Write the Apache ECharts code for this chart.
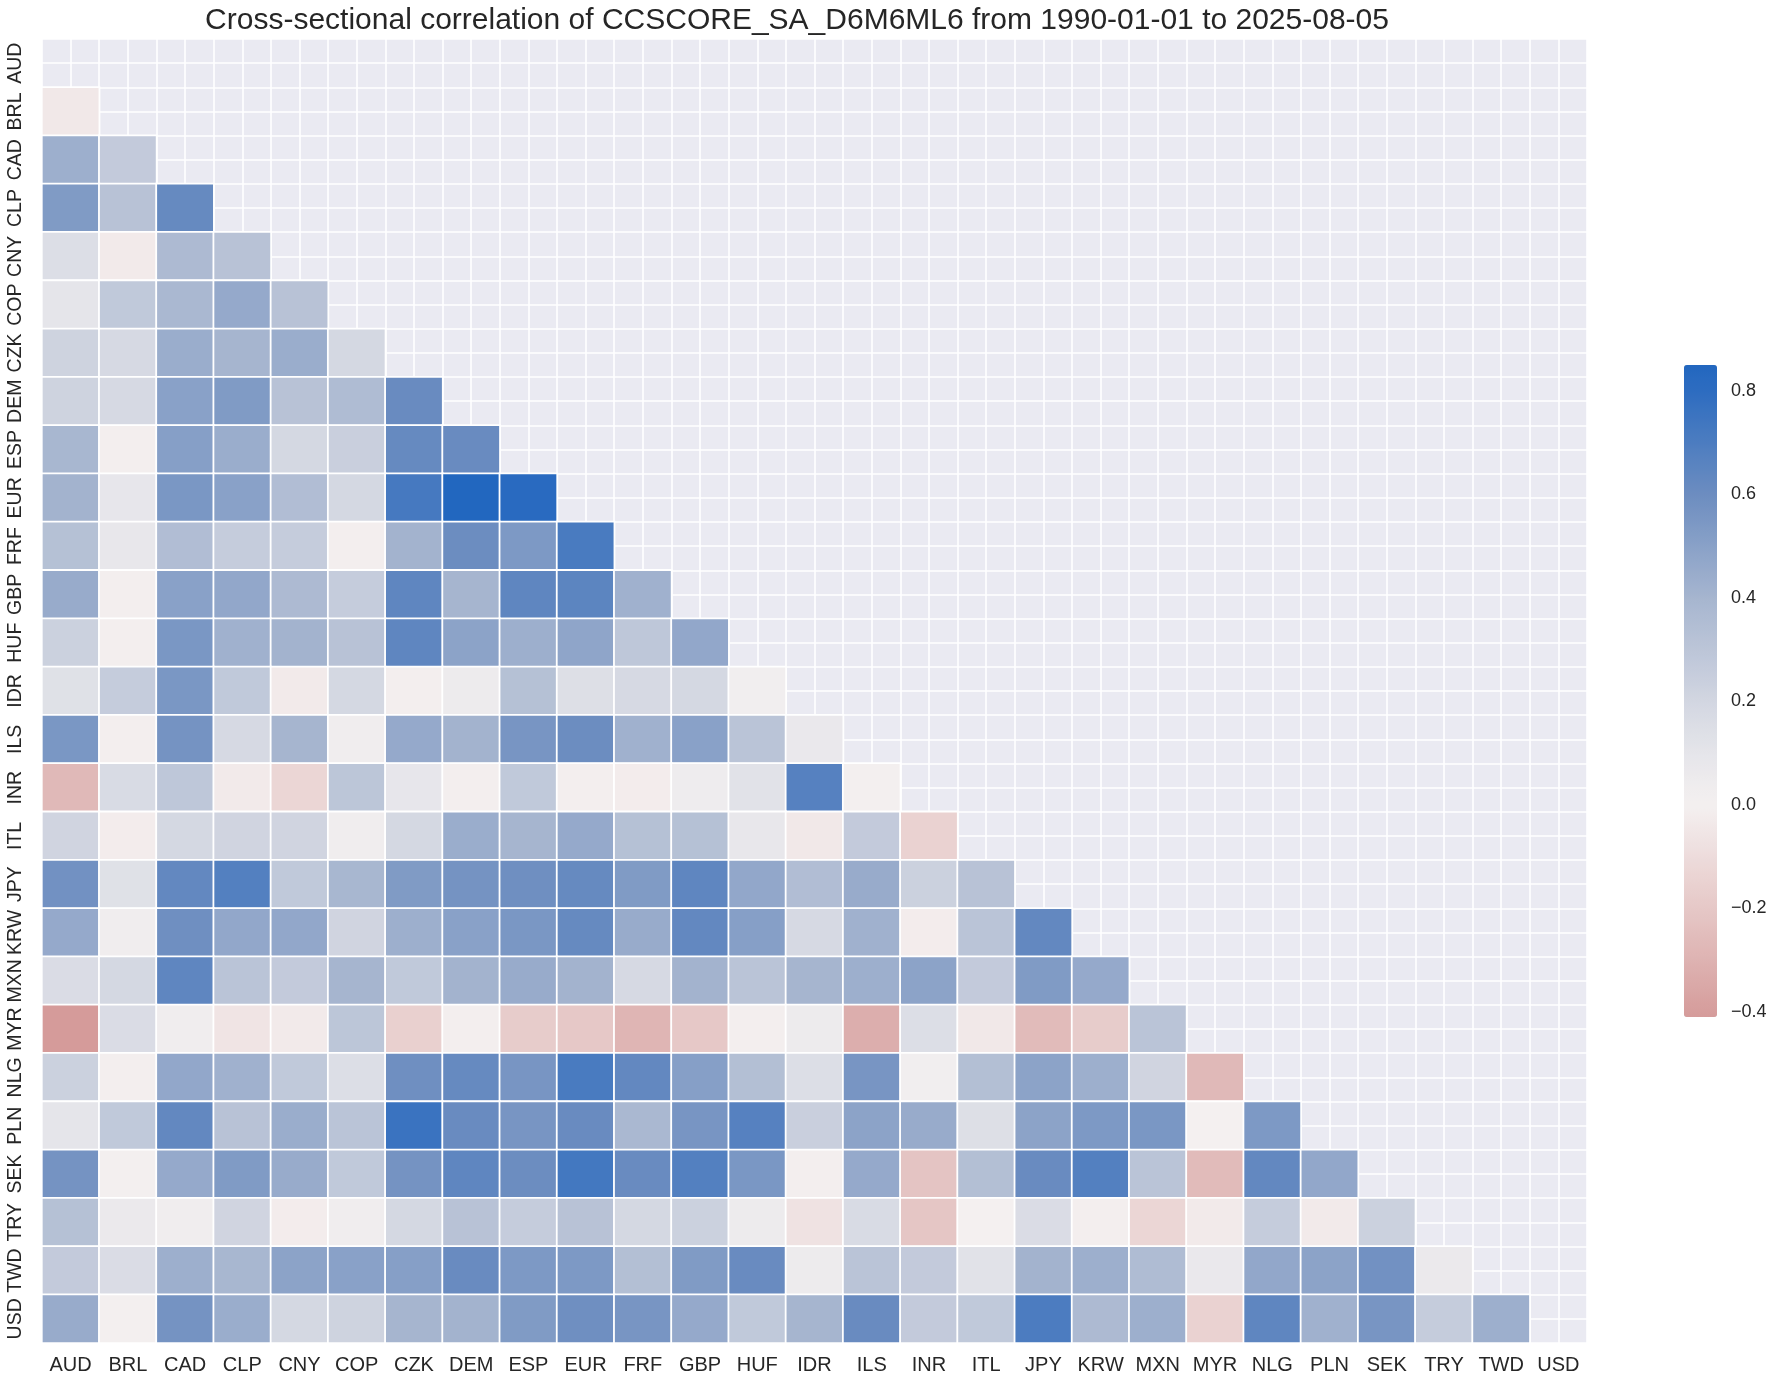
<!DOCTYPE html>
<html>
<head>
<meta charset="utf-8">
<script src="https://cdn.jsdelivr.net/npm/echarts@6/dist/echarts.min.js"></script>
<style>
html,body{margin:0;padding:0;background:#ffffff;}
#chart{width:1772px;height:1384px;}
</style>
</head>
<body>
<div id="chart"></div>
<script>
// ---------------- DATA ----------------
const titleText = 'Cross-sectional correlation of CCSCORE_SA_D6M6ML6 from 1990-01-01 to 2025-08-05';
const currencies = ['AUD','BRL','CAD','CLP','CNY','COP','CZK','DEM','ESP','EUR','FRF','GBP','HUF','IDR','ILS','INR','ITL','JPY','KRW','MXN','MYR','NLG','PLN','SEK','TRY','TWD','USD'];
const colorbarTicks = [-0.4, -0.2, 0.0, 0.2, 0.4, 0.6, 0.8];
const valueMin = -0.41;
const valueMax = 0.85;

// lower-triangle rows: values against AUD, BRL, ... (columns before the row currency)
const rowBRL = [-0.04];
const rowCAD = [0.43, 0.27];
const rowCLP = [0.53, 0.32, 0.62];
const rowCNY = [0.15, -0.03, 0.37, 0.32];
const rowCOP = [0.10, 0.28, 0.38, 0.46, 0.32];
const rowCZK = [0.22, 0.18, 0.44, 0.40, 0.44, 0.19];
const rowDEM = [0.22, 0.18, 0.50, 0.53, 0.32, 0.36, 0.61];
const rowESP = [0.39, -0.01, 0.51, 0.44, 0.19, 0.24, 0.62, 0.61];
const rowEUR = [0.41, 0.09, 0.55, 0.50, 0.35, 0.19, 0.72, 0.85, 0.82];
const rowFRF = [0.33, 0.08, 0.35, 0.26, 0.26, -0.01, 0.41, 0.60, 0.54, 0.71];
const rowGBP = [0.45, -0.01, 0.50, 0.47, 0.37, 0.26, 0.64, 0.40, 0.64, 0.65, 0.42];
const rowHUF = [0.23, -0.01, 0.55, 0.42, 0.41, 0.32, 0.64, 0.49, 0.43, 0.48, 0.29, 0.47];
const rowIDR = [0.13, 0.26, 0.55, 0.28, -0.03, 0.19, -0.01, 0.05, 0.33, 0.14, 0.18, 0.19, 0.02];
const rowILS = [0.55, -0.01, 0.57, 0.18, 0.40, 0.03, 0.46, 0.41, 0.56, 0.60, 0.42, 0.50, 0.31, 0.07];
const rowINR = [-0.27, 0.17, 0.29, -0.03, -0.13, 0.30, 0.09, -0.01, 0.28, -0.01, -0.02, 0.04, 0.12, 0.67, 0.01];
const rowITL = [0.21, -0.02, 0.19, 0.21, 0.21, 0.03, 0.19, 0.44, 0.40, 0.46, 0.33, 0.33, 0.08, -0.04, 0.27, -0.15];
const rowJPY = [0.58, 0.13, 0.63, 0.68, 0.28, 0.39, 0.53, 0.57, 0.59, 0.62, 0.53, 0.64, 0.47, 0.35, 0.45, 0.23, 0.32];
const rowKRW = [0.46, 0.03, 0.59, 0.47, 0.47, 0.21, 0.43, 0.50, 0.55, 0.62, 0.45, 0.63, 0.51, 0.18, 0.42, -0.02, 0.31, 0.63];
const rowMXN = [0.16, 0.19, 0.64, 0.31, 0.27, 0.40, 0.28, 0.41, 0.45, 0.41, 0.18, 0.41, 0.31, 0.40, 0.43, 0.49, 0.27, 0.53, 0.46];
const rowMYR = [-0.41, 0.16, 0.03, -0.06, -0.03, 0.30, -0.16, -0.01, -0.18, -0.20, -0.29, -0.20, -0.01, 0.05, -0.32, 0.15, -0.04, -0.26, -0.18, 0.31];
const rowNLG = [0.23, -0.01, 0.47, 0.42, 0.28, 0.15, 0.59, 0.62, 0.56, 0.71, 0.63, 0.51, 0.34, 0.15, 0.56, 0.02, 0.34, 0.49, 0.43, 0.21, -0.27];
const rowPLN = [0.10, 0.28, 0.63, 0.32, 0.44, 0.31, 0.76, 0.61, 0.56, 0.61, 0.38, 0.56, 0.67, 0.24, 0.49, 0.45, 0.14, 0.49, 0.54, 0.55, 0.00, 0.54];
const rowSEK = [0.57, 0.01, 0.46, 0.53, 0.45, 0.28, 0.57, 0.64, 0.60, 0.73, 0.61, 0.68, 0.55, -0.01, 0.46, -0.22, 0.34, 0.61, 0.68, 0.31, -0.26, 0.63, 0.47];
const rowTRY = [0.33, 0.06, 0.03, 0.21, -0.02, 0.03, 0.19, 0.32, 0.26, 0.32, 0.19, 0.23, 0.05, -0.07, 0.17, -0.21, 0.00, 0.16, -0.01, -0.13, -0.03, 0.26, -0.03, 0.23];
const rowTWD = [0.27, 0.16, 0.43, 0.39, 0.49, 0.50, 0.51, 0.61, 0.54, 0.54, 0.34, 0.53, 0.61, 0.05, 0.31, 0.27, 0.12, 0.41, 0.43, 0.36, 0.07, 0.47, 0.49, 0.58, 0.06];
const rowUSD = [0.45, 0.01, 0.57, 0.44, 0.19, 0.22, 0.40, 0.41, 0.53, 0.59, 0.56, 0.46, 0.28, 0.40, 0.61, 0.27, 0.28, 0.70, 0.37, 0.43, -0.15, 0.64, 0.42, 0.56, 0.26, 0.43];

const lowerRows = [rowBRL,rowCAD,rowCLP,rowCNY,rowCOP,rowCZK,rowDEM,rowESP,rowEUR,rowFRF,rowGBP,rowHUF,rowIDR,rowILS,rowINR,rowITL,rowJPY,rowKRW,rowMXN,rowMYR,rowNLG,rowPLN,rowSEK,rowTRY,rowTWD,rowUSD];

// ---------------- BUILD ----------------
const heatData = [];
lowerRows.forEach(function(row, k){
  const yi = k + 1;
  row.forEach(function(v, xi){ heatData.push([xi, yi, v]); });
});

// colour map anchors (style)
const cmapAnchors = [
  [-0.41,[213,155,154]],
  [-0.2,[230,200,199]],
  [0.0,[244,240,240]],
  [0.1,[229,229,234]],
  [0.2,[210,214,225]],
  [0.4,[166,181,207]],
  [0.6,[108,141,192]],
  [0.8,[45,108,192]],
  [0.85,[34,103,191]]
];
function cmap(v){
  for (let i=0;i<cmapAnchors.length-1;i++){
    const a=cmapAnchors[i], b=cmapAnchors[i+1];
    if (v<=b[0] || i===cmapAnchors.length-2){
      const t=Math.max(0,Math.min(1,(v-a[0])/(b[0]-a[0])));
      const c=a[1].map(function(x,j){return Math.round(x+(b[1][j]-x)*t);});
      return 'rgb('+c.join(',')+')';
    }
  }
}
const nStops = 127;
const colorStops = [];
for (let i=0;i<nStops;i++){ colorStops.push(cmap(valueMin+(valueMax-valueMin)*i/(nStops-1))); }

const FONT = '"Liberation Sans", Arial, sans-serif';
const TXT = '#262626';
const n = currencies.length;

const G = {left:42, top:39, width:1545, height:1304};
const CB = {left:1684, top:365, width:33, height:652};

const chart = echarts.init(document.getElementById('chart'), null, {renderer:'canvas'});
chart.setOption({
  animation:false,
  backgroundColor:'#ffffff',
  title:{
    text:titleText,
    left:797, top:6, textAlign:'center', padding:0,
    textStyle:{fontFamily:FONT, fontSize:30, fontWeight:'normal', color:TXT}
  },
  grid:[
    {left:G.left, top:G.top, width:G.width, height:G.height, show:true, backgroundColor:'#EAEAF2', borderWidth:0},
    {left:CB.left, top:CB.top, width:CB.width, height:CB.height, show:false}
  ],
  xAxis:[
    {type:'category', gridIndex:0, data:currencies, position:'bottom',
     axisLine:{show:false}, axisTick:{show:false}, splitLine:{show:false},
     axisLabel:{fontFamily:FONT, fontSize:20, color:TXT, margin:12, interval:0}},
    {type:'value', gridIndex:0, min:-0.5, max:n-0.5, interval:0.5, position:'top',
     axisLine:{show:false}, axisTick:{show:false}, axisLabel:{show:false},
     splitLine:{show:true, lineStyle:{color:'#ffffff', width:1.6}}},
    {type:'value', gridIndex:1, min:0, max:1, show:false}
  ],
  yAxis:[
    {type:'category', gridIndex:0, data:currencies, inverse:true,
     axisLine:{show:false}, axisTick:{show:false}, splitLine:{show:false},
     axisLabel:{fontFamily:FONT, fontSize:19.5, color:TXT, rotate:90, margin:16, interval:0, align:'center', verticalAlign:'bottom'}},
    {type:'value', gridIndex:0, min:-0.5, max:n-0.5, interval:0.5, position:'right',
     axisLine:{show:false}, axisTick:{show:false}, axisLabel:{show:false},
     splitLine:{show:true, lineStyle:{color:'#ffffff', width:1.6}}},
    {type:'value', gridIndex:1, min:valueMin, max:valueMax, position:'right',
     axisLine:{show:false},
     splitLine:{show:false},
     axisTick:{show:true, inside:false, length:7, lineStyle:{color:'#333333', width:1.5}, customValues:colorbarTicks},
     axisLabel:{show:true, customValues:colorbarTicks, margin:14, fontFamily:FONT, fontSize:18, color:TXT,
       formatter:function(v){ const s=Math.abs(v).toFixed(1); return (v< -1e-9 ? '\u2212' : '') + s; }}}
  ],
  visualMap:{
    type:'continuous', seriesIndex:0, min:valueMin, max:valueMax,
    calculable:false, show:true, orient:'vertical',
    left:CB.left, top:CB.top, itemWidth:CB.width, itemHeight:CB.height,
    padding:0, text:null, showLabel:false, hoverLink:false,
    inRange:{color:colorStops}
  },
  series:[
    {type:'heatmap', xAxisIndex:0, yAxisIndex:0, data:heatData,
     itemStyle:{borderColor:'#ffffff', borderWidth:1.8},
     emphasis:{disabled:true}},
    {type:'scatter', xAxisIndex:2, yAxisIndex:2, data:[], silent:true}
  ]
});
</script>
</body>
</html>
